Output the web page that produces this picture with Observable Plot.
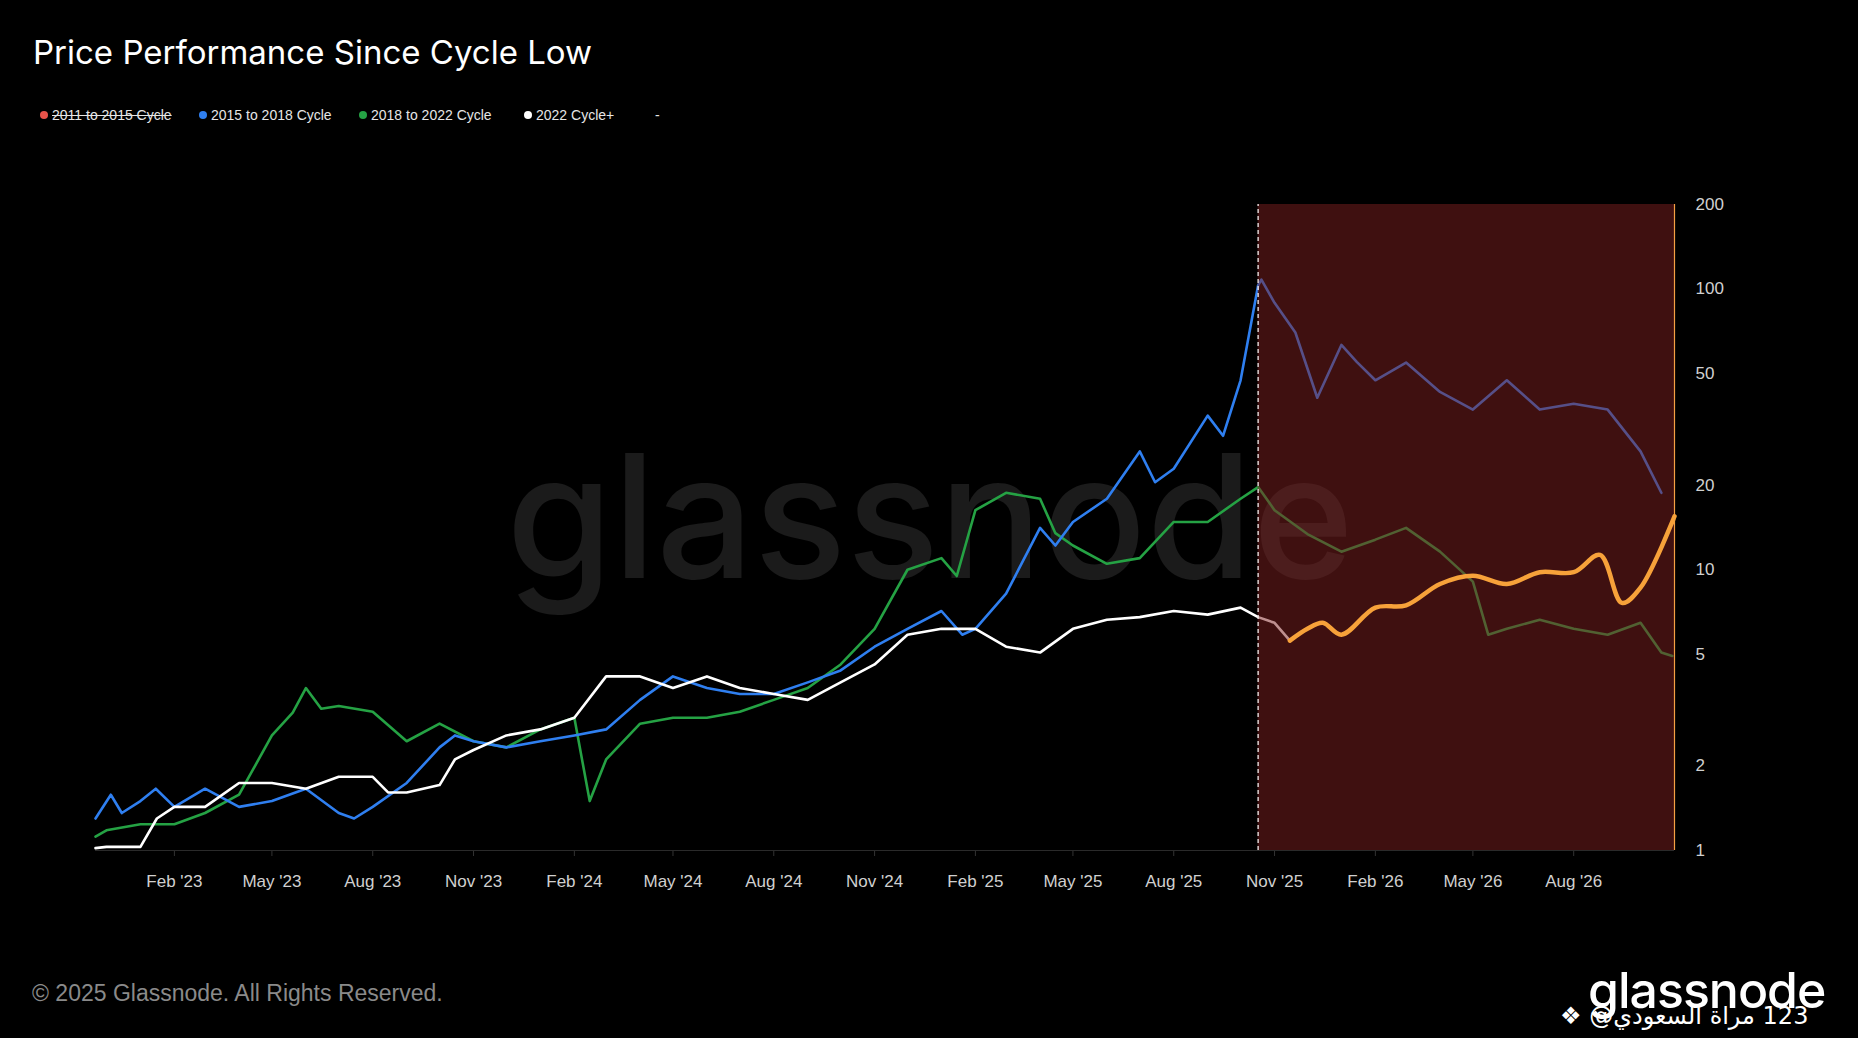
<!DOCTYPE html>
<html><head><meta charset="utf-8">
<script src="https://cdn.jsdelivr.net/npm/d3@7"></script>
<script src="https://cdn.jsdelivr.net/npm/@observablehq/plot@0.6"></script>
<style>
body{margin:0;background:#000;width:1858px;height:1038px;overflow:hidden;font-family:"Liberation Sans",Arial,sans-serif;position:relative}
#chart{position:absolute;left:0;top:0}
.title{position:absolute;left:33px;top:32px;color:#fff;font-size:33px;font-family:Inter,"Liberation Sans",sans-serif}
.legend{position:absolute;left:40px;top:107px;color:#e6e6e6;font-size:14px;font-family:"Liberation Sans",Arial,sans-serif}
.legend span{position:absolute;white-space:nowrap}
.dot{display:inline-block;width:8px;height:8px;border-radius:50%;margin-right:4px;vertical-align:1px}
.foot{position:absolute;left:32px;top:980px;color:#8a8a8a;font-size:23px}
.logo{position:absolute;left:1588px;top:960px;color:#fff;font-size:50px;font-family:Inter,"Liberation Sans",sans-serif;font-weight:500;letter-spacing:-1px}
.ar{position:absolute;left:1560px;top:1002px;color:#fff;font-size:24px;font-family:"DejaVu Sans",sans-serif;white-space:nowrap;direction:ltr}
</style></head><body>
<div id="chart"></div>
<div class="title">Price Performance Since Cycle Low</div>
<div class="legend">
<span style="left:0"><i class="dot" style="background:#e8534a"></i><s>2011 to 2015 Cycle</s></span>
<span style="left:159px"><i class="dot" style="background:#2f7ff0"></i>2015 to 2018 Cycle</span>
<span style="left:319px"><i class="dot" style="background:#25a244"></i>2018 to 2022 Cycle</span>
<span style="left:484px"><i class="dot" style="background:#fff"></i>2022 Cycle+</span>
<span style="left:615px">-</span>
</div>
<div class="foot">© 2025 Glassnode. All Rights Reserved.</div>
<div class="logo">glassnode</div>
<div class="ar">❖ @<bdi>مراة السعودي</bdi> 123</div>
<script>
const blueDates = ["2022-11-21","2022-12-05","2022-12-15","2023-01-01","2023-01-15","2023-02-01","2023-03-01","2023-04-01","2023-05-01","2023-06-01","2023-07-01","2023-07-15","2023-08-01","2023-09-01","2023-10-01","2023-10-15","2023-11-01","2023-12-01","2024-01-01","2024-02-01","2024-03-01","2024-04-01","2024-05-01","2024-06-01","2024-07-01","2024-08-01","2024-09-01","2024-10-01","2024-11-01","2024-12-01","2025-01-01","2025-01-20","2025-02-01","2025-03-01","2025-04-01","2025-04-15","2025-05-01","2025-06-01","2025-07-01","2025-07-15","2025-08-01","2025-09-01","2025-09-15","2025-10-01","2025-10-17","2025-10-20","2025-11-01","2025-11-20","2025-12-10","2026-01-01","2026-01-15","2026-02-01","2026-03-01","2026-04-01","2026-05-01","2026-06-01","2026-07-01","2026-08-01","2026-09-01","2026-10-01","2026-10-20"];
const blueValues = [1.30,1.58,1.36,1.50,1.66,1.43,1.66,1.43,1.50,1.66,1.36,1.30,1.43,1.74,2.33,2.57,2.45,2.33,2.45,2.57,2.70,3.44,4.17,3.79,3.61,3.61,3.97,4.38,5.32,6.16,7.13,5.87,6.16,8.22,14.1,12.2,14.8,17.9,26.4,20.5,22.9,35.4,30.0,47.3,103,108,89.3,70.0,41.0,63.2,55.0,47.3,54.7,43.0,37.2,47.3,37.2,39.0,37.2,26.4,18.8];
const greenDates = ["2022-11-21","2022-12-01","2023-01-01","2023-02-01","2023-03-01","2023-04-01","2023-05-01","2023-05-20","2023-06-01","2023-06-15","2023-07-01","2023-08-01","2023-09-01","2023-10-01","2023-11-01","2023-12-01","2024-01-01","2024-02-01","2024-02-15","2024-03-01","2024-04-01","2024-05-01","2024-06-01","2024-07-01","2024-08-01","2024-09-01","2024-10-01","2024-11-01","2024-12-01","2025-01-01","2025-01-15","2025-02-01","2025-03-01","2025-04-01","2025-04-15","2025-05-01","2025-06-01","2025-07-01","2025-08-01","2025-09-01","2025-10-01","2025-10-17","2025-11-01","2025-12-01","2026-01-01","2026-02-01","2026-03-01","2026-04-01","2026-05-01","2026-05-15","2026-06-01","2026-07-01","2026-08-01","2026-09-01","2026-10-01","2026-10-20","2026-10-30"];
const greenValues = [1.12,1.18,1.24,1.24,1.36,1.58,2.57,3.1,3.79,3.2,3.27,3.12,2.45,2.83,2.45,2.33,2.70,2.97,1.50,2.11,2.83,2.97,2.97,3.12,3.44,3.79,4.60,6.16,10.0,11.0,9.5,16.3,18.8,17.9,13.5,12.2,10.5,11.0,14.8,14.8,17.9,19.7,16.3,13.4,11.6,12.8,14.1,11.6,9.07,5.87,6.16,6.64,6.16,5.87,6.47,5.07,4.93];
const whiteDates = ["2022-11-21","2022-12-01","2023-01-01","2023-01-16","2023-02-01","2023-03-01","2023-04-01","2023-05-01","2023-06-01","2023-07-01","2023-08-01","2023-08-15","2023-09-01","2023-10-01","2023-10-15","2023-11-01","2023-12-01","2024-01-01","2024-02-01","2024-03-01","2024-04-01","2024-05-01","2024-06-01","2024-07-01","2024-08-01","2024-09-01","2024-10-01","2024-11-01","2024-12-01","2025-01-01","2025-02-01","2025-03-01","2025-04-01","2025-05-01","2025-06-01","2025-07-01","2025-08-01","2025-09-01","2025-10-01","2025-10-17","2025-11-01","2025-11-15"];
const whiteValues = [1.02,1.03,1.03,1.30,1.43,1.43,1.74,1.74,1.66,1.83,1.83,1.61,1.61,1.71,2.11,2.28,2.57,2.70,2.97,4.17,4.17,3.79,4.17,3.79,3.61,3.44,3.97,4.60,5.87,6.16,6.16,5.32,5.07,6.16,6.64,6.78,7.13,6.92,7.33,6.78,6.47,5.59];
const orangeDates = ["2025-11-15","2025-12-01","2025-12-15","2026-01-01","2026-02-01","2026-03-01","2026-04-01","2026-05-01","2026-06-01","2026-07-01","2026-08-01","2026-08-25","2026-09-14","2026-10-01","2026-11-01"];
const orangeValues = [5.59,6.16,6.47,5.87,7.33,7.47,8.90,9.52,8.90,9.80,9.80,11.3,7.62,8.64,15.5];
const xTicks = ["2023-02-01","2023-05-01","2023-08-01","2023-11-01","2024-02-01","2024-05-01","2024-08-01","2024-11-01","2025-02-01","2025-05-01","2025-08-01","2025-11-01","2026-02-01","2026-05-01","2026-08-01"];
const yTicks = [1,2,5,10,20,50,100,200];
const shadeStart = "2025-10-17", shadeEnd = "2026-11-01";

const P = d3.utcParse("%Y-%m-%d");
const mk = (ds, vs) => ds.map((d,i)=>({date:P(d), v:vs[i]}));
const blue = mk(blueDates, blueValues), green = mk(greenDates, greenValues), white = mk(whiteDates, whiteValues), orange = mk(orangeDates, orangeValues);
const fmt = d3.utcFormat("%b '%y");

const chart = Plot.plot({
  width:1858, height:1038,
  marginLeft:95, marginRight:184, marginTop:204, marginBottom:188,
  style:{background:"#000", color:"#d0d0d0", fontSize:"17px", fontFamily:"'Liberation Sans',Arial,sans-serif"},
  x:{type:"utc", domain:[P("2022-11-21"), P("2026-11-01")], ticks:xTicks.map(P), tickFormat:fmt, tickSize:6, tickPadding:18, label:null},
  y:{type:"log", domain:[1,200], ticks:yTicks, tickFormat:d=>String(d), axis:"right", tickSize:0, tickPadding:21, label:null},
  marks:[
    Plot.text(["glassnode"], {frameAnchor:"middle", dx:45, dy:-5, fontSize:172, fill:"#1b1b1b", fontFamily:"Inter,'Liberation Sans',sans-serif", fontWeight:500}),
    Plot.ruleY([1], {stroke:"#2a2a2a"}),
    Plot.line(green, {x:"date", y:"v", stroke:"#25a244", strokeWidth:2.6}),
    Plot.line(blue, {x:"date", y:"v", stroke:"#2f7ff0", strokeWidth:2.6}),
    Plot.line(white, {x:"date", y:"v", stroke:"#ffffff", strokeWidth:2.6}),
    Plot.rect([{a:P(shadeStart), b:P(shadeEnd)}], {x1:"a", x2:"b", y1:1, y2:200, fill:"#7e2020", fillOpacity:0.5}),
    Plot.ruleX([P(shadeStart)], {y1:1, y2:200, stroke:"#fff", strokeDasharray:"4,3", strokeWidth:1.2}),
    Plot.ruleX([P(shadeEnd)], {y1:1, y2:200, stroke:"#f4a043", strokeWidth:1.2}),
    Plot.line(orange, {x:"date", y:"v", stroke:"#f7a23a", strokeWidth:4.5, curve:"catmull-rom"})
  ]
});
chart.querySelectorAll("g[aria-label='x-axis tick']").forEach(e=>e.setAttribute("stroke","#333"));
document.getElementById("chart").appendChild(chart);
</script>
</body></html>
